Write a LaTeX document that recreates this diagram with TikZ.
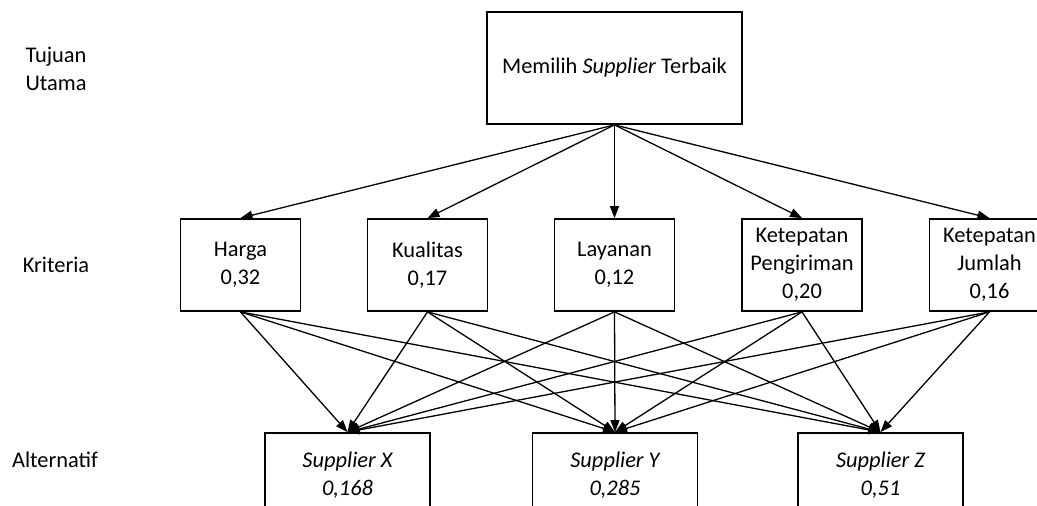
\documentclass[tikz,border=0pt]{standalone}
\usepackage{fontspec}
\setmainfont{Carlito}
\usetikzlibrary{arrows.meta}
\begin{document}
\begin{tikzpicture}[x=0.5pt,y=-0.5pt,
  box/.style={draw,line width=0.9pt,align=center,inner sep=0pt,font=\fontsize{11.2}{14}\selectfont},
  krit/.style={box,minimum width=60pt,minimum height=46pt},
  alt/.style={box,minimum width=82.5pt,minimum height=42pt,font=\fontsize{11.2}{14}\selectfont\itshape},
  level/.style={align=center,font=\fontsize{11.2}{14}\selectfont},
  arr/.style={-{Triangle[length=6pt,width=4.5pt]},line width=0.65pt}]
   \useasboundingbox (0,0) rectangle (1037,506);
   \clip (0,0) rectangle (1037,506);

   \node[level] (tujuan) at (56,69) {Tujuan\\Utama};
   \node[level] (kriteria) at (56,265) {Kriteria};
   \node[level] (alternatif) at (55,460) {Alternatif};

   \node[box,minimum width=127.5pt,minimum height=56pt] (goal) at (614.5,68) {Memilih \textit{Supplier} Terbaik};

   \node[krit] (harga) at (240.5,265) {Harga\\0,32};
   \node[krit] (kualitas) at (427.5,265) {Kualitas\\0,17};
   \node[krit] (layanan) at (614.5,265) {Layanan\\0,12};
   \node[krit] (kirim) at (802,265) {Ketepatan\\Pengiriman\\0,20};
   \node[krit] (jumlah) at (989.5,265) {Ketepatan\\Jumlah\\0,16};

   \node[alt] (supx) at (347.5,475) {Supplier X\\0,168};
   \node[alt] (supy) at (615,475) {Supplier Y\\0,285};
   \node[alt] (supz) at (880.5,475) {Supplier Z\\0,51};

   \path[arr] (goal.south) edge (harga.north) edge (kualitas.north) edge (layanan.north)
   edge (kirim.north) edge (jumlah.north);

   \path[arr] (harga.south) edge (supx.north) edge (supy.north) edge (supz.north);
   \path[arr] (kualitas.south) edge (supx.north) edge (supy.north) edge (supz.north);
   \path[arr] (layanan.south) edge (supx.north) edge (supy.north) edge (supz.north);
   \path[arr] (kirim.south) edge (supx.north) edge (supy.north) edge (supz.north);
   \path[arr] (jumlah.south) edge (supx.north) edge (supy.north) edge (supz.north);
\end{tikzpicture}
\end{document}
